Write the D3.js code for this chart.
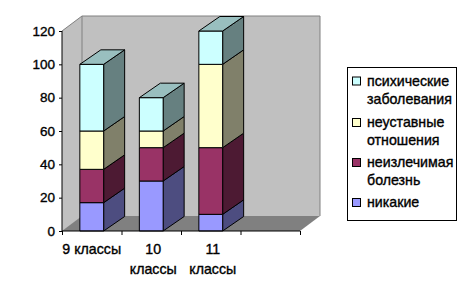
<!DOCTYPE html>
<html>
<head>
<meta charset="utf-8">
<script src="https://cdn.jsdelivr.net/npm/d3@7"></script>
<style>
  html, body { margin: 0; padding: 0; background: #fff; }
  svg { display: block; }
  text { font-family: "Liberation Sans", sans-serif; font-size: 14.2px; fill: #000; stroke: #000; stroke-width: 0.35px; }
  .tick text { font-size: 13.5px; }
</style>
</head>
<body>
<svg width="466" height="298"></svg>
<script>
// chart values
const categories = ["9 классы", "10 классы", "11 классы", ""];
const none = [17, 30, 10, null];
const incurable = [20, 20, 40, null];
const hazing = [23, 10, 50, null];
const mental = [40, 20, 20, null];
const seriesNames = ["никакие", "неизлечимая болезнь", "неуставные отношения", "психические заболевания"];
const yTicks = [0, 20, 40, 60, 80, 100, 120];

const frontColors = ["#9999ff", "#993366", "#ffffcc", "#ccffff"];
const sideColors = ["#4d4d80", "#4d1a33", "#80806a", "#668080"];
const topColor = "#99bfbf";

const svg = d3.select("svg");

const plot = { left: 62, right: 300, top: 31, bottom: 231 };
const wall = { dx: 20, dy: -15 };   // how far the back wall sits behind the front plane
const depth = { dx: 21, dy: -14.5 }; // depth of the columns

const y = d3.scaleLinear().domain([0, 120]).range([plot.bottom, plot.top]);
const x = d3.scaleBand().domain(d3.range(categories.length))
    .range([plot.left, plot.right])
    .paddingInner(0.6).paddingOuter(0.3);
const xEdge = d3.scaleLinear().domain([0, categories.length]).range([plot.left, plot.right]);

const poly = (pts) => pts.map(p => p.join(",")).join(" ");

// walls and floor
svg.append("polygon")
    .attr("points", poly([[plot.left, plot.top], [plot.left + wall.dx, plot.top + wall.dy],
        [plot.right + wall.dx, plot.top + wall.dy], [plot.right + wall.dx, plot.bottom + wall.dy],
        [plot.left, plot.bottom]]))
    .attr("fill", "#c0c0c0");
svg.append("polygon")
    .attr("points", poly([[plot.left, plot.bottom], [plot.left + wall.dx, plot.bottom + wall.dy],
        [plot.right + wall.dx, plot.bottom + wall.dy], [plot.right, plot.bottom]]))
    .attr("fill", "#808080");
svg.append("path")
    .attr("d", `M${plot.left},${plot.top}L${plot.left + wall.dx},${plot.top + wall.dy}`
        + `H${plot.right + wall.dx}V${plot.bottom + wall.dy}`
        + `M${plot.left + wall.dx},${plot.top + wall.dy}V${plot.bottom + wall.dy}`)
    .attr("fill", "none")
    .attr("stroke", "#808080");

// stacked columns
const rows = categories.map((c, i) => ({ i, s0: none[i], s1: incurable[i], s2: hazing[i], s3: mental[i] }));
const stacked = d3.stack().keys(["s0", "s1", "s2", "s3"])(rows);

const cols = svg.selectAll(".col")
    .data(rows.filter(r => r.s0 !== null))
    .join("g")
    .attr("class", "col");

cols.each(function (r) {
    const g = d3.select(this);
    const x0 = x(r.i), x1 = x0 + x.bandwidth();
    stacked.forEach((layer, k) => {
        const d = layer[r.i];
        g.append("polygon")
            .attr("points", poly([[x1, y(d[0])], [x1 + depth.dx, y(d[0]) + depth.dy],
                [x1 + depth.dx, y(d[1]) + depth.dy], [x1, y(d[1])]]))
            .attr("fill", sideColors[k]);
        g.append("rect")
            .attr("x", x0)
            .attr("y", y(d[1]))
            .attr("width", x.bandwidth())
            .attr("height", y(d[0]) - y(d[1]))
            .attr("fill", frontColors[k]);
    });
    const h = stacked[stacked.length - 1][r.i][1];
    g.append("polygon")
        .attr("points", poly([[x0, y(h)], [x0 + depth.dx, y(h) + depth.dy],
            [x1 + depth.dx, y(h) + depth.dy], [x1, y(h)]]))
        .attr("fill", topColor);
    g.selectAll("polygon, rect")
        .attr("stroke", "#000")
        .attr("stroke-width", 1)
        .attr("stroke-linejoin", "round");
});

// axes
const yAxis = svg.append("g")
    .attr("transform", `translate(${plot.left},0)`)
    .call(d3.axisLeft(y).tickValues(yTicks).tickSize(3).tickPadding(4));
const xAxis = svg.append("g")
    .attr("transform", `translate(0,${plot.bottom})`)
    .call(d3.axisBottom(xEdge).tickValues(d3.range(categories.length + 1)).tickSize(4).tickFormat(""));
[yAxis, xAxis].forEach(a => {
    a.selectAll("path, line").attr("stroke", "#000");
    a.select(".domain").attr("d", a === yAxis
        ? `M0,${plot.top}V${plot.bottom}`
        : `M${plot.left},0H${plot.right}`);
});
yAxis.selectAll("text").style("font-family", "Liberation Sans").attr("fill", "#000");

// category labels, wrapped like the original ("9 классы" fits on one line)
categories.forEach((c, i) => {
    const lines = i === 0 ? [c] : c.split(" ");
    lines.forEach((line, k) => {
        svg.append("text")
            .attr("x", xEdge(i) + (xEdge(i + 1) - xEdge(i)) / 2 + (i === 0 ? 0 : 2))
            .attr("y", 254 + k * 20)
            .attr("text-anchor", "middle")
            .text(line);
    });
});

// legend
const legend = svg.append("g");
legend.append("rect")
    .attr("x", 347.5).attr("y", 67.5)
    .attr("width", 109).attr("height", 153)
    .attr("fill", "#fff").attr("stroke", "#000");

const legendY = [81, 122.5, 162.5, 202.5];
const legendOrder = d3.range(seriesNames.length).reverse();
legendOrder.forEach((k, row) => {
    legend.append("rect")
        .attr("x", 352.5).attr("y", legendY[row] - 4)
        .attr("width", 8).attr("height", 8)
        .attr("fill", frontColors[k]).attr("stroke", "#000");
    seriesNames[k].split(" ").forEach((line, j) => {
        legend.append("text")
            .attr("x", 367)
            .attr("y", legendY[row] + 4.5 + j * 18)
            .text(line);
    });
});
</script>
</body>
</html>
